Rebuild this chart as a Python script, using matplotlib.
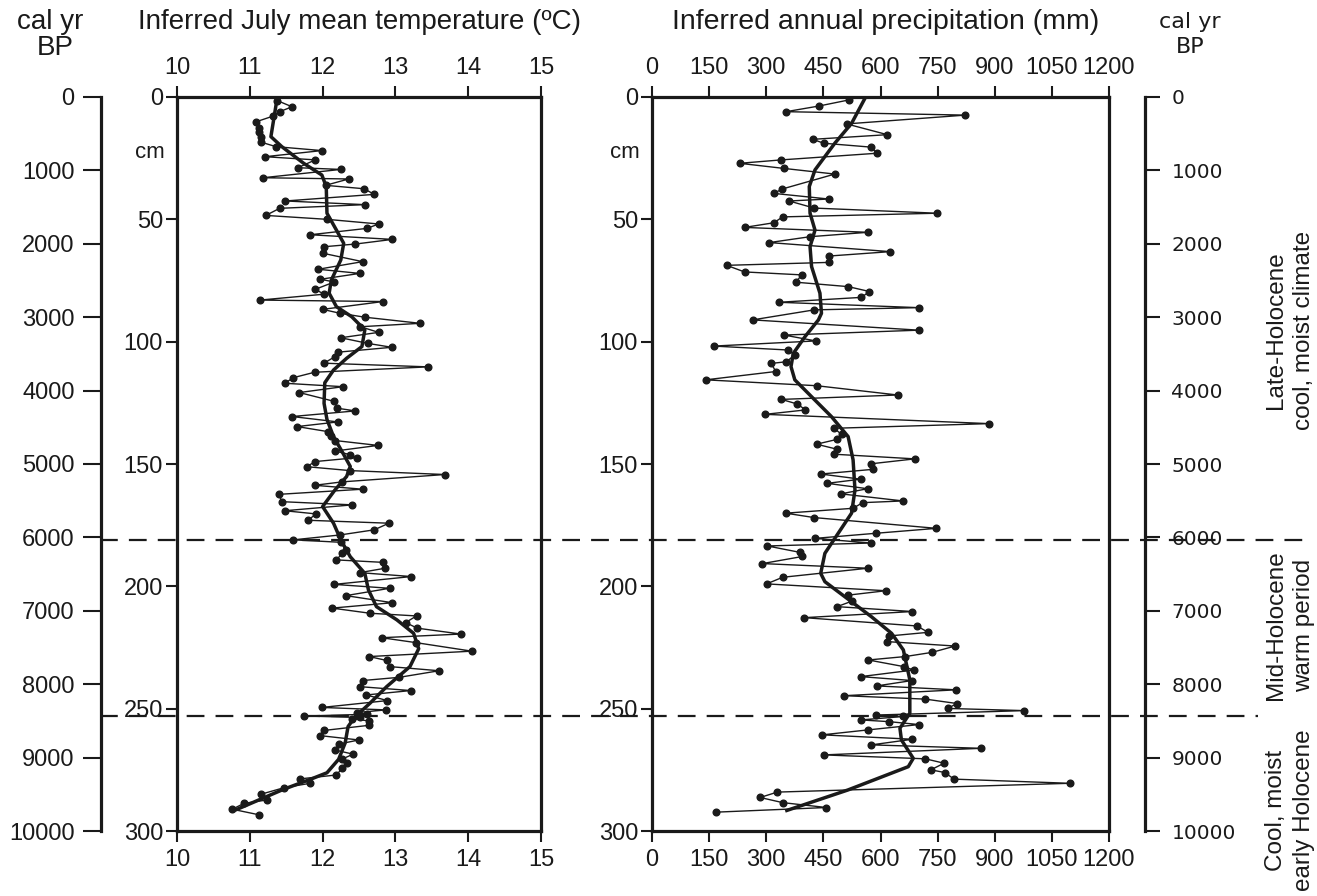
import numpy as np
import matplotlib
matplotlib.use('Agg')
import matplotlib.pyplot as plt
from matplotlib import transforms
from matplotlib.lines import Line2D

plt.rcParams['font.family'] = ['Liberation Sans', 'DejaVu Sans']

# ---- data ----
temp_depth = [1.5, 4.0, 6.0, 7.8, 10.1, 12.5, 14.4, 16.5, 18.5, 20.3, 21.9, 24.4, 25.7, 28.9, 29.6,
              33.0, 33.5, 36.1, 37.5, 39.8, 42.5, 44.0, 45.5, 48.4, 50.0, 51.9, 53.7, 56.3, 58.2,
              60.1, 61.2, 63.9, 67.3, 70.4, 72.1, 74.5, 75.6, 78.6, 80.6, 83.0, 83.6, 86.8, 88.4,
              90.0, 92.5, 93.9, 96.2, 98.4, 100.7, 102.3, 104.3, 106.1, 108.8, 110.3, 112.5, 114.7,
              117.0, 118.4, 120.8, 124.4, 127.2, 128.3, 130.6, 132.8, 134.7, 136.8, 138.4, 140.4,
              142.4, 144.7, 146.2, 147.4, 149.0, 151.1, 152.7, 154.3, 157.3, 158.7, 160.3, 162.4,
              165.4, 166.7, 169.1, 170.4, 173.0, 174.2, 176.9, 179.0, 181.0, 182.0, 185.1, 186.5,
              189.2, 190.2, 192.6, 194.4, 196.0, 199.2, 200.8, 203.8, 206.7, 208.9, 211.0, 212.1,
              214.8, 217.1, 219.5, 221.0, 223.0, 226.5, 228.7, 230.3, 232.8, 234.5, 237.2, 238.5,
              241.0, 242.6, 244.4, 246.7, 249.5, 250.5, 251.6, 252.3, 253.0, 253.6, 254.2, 255.0,
              256.8, 258.9, 261.0, 262.8, 264.4, 266.9, 268.6, 270.7, 272.3, 274.3, 277.1, 278.7,
              280.5, 282.3, 285.0, 287.3, 288.7, 291.1, 293.4]
temp = [11.38, 11.58, 11.41, 11.32, 11.09, 11.13, 11.13, 11.15, 11.16, 11.36, 11.99, 11.21, 11.90,
        11.66, 12.25, 11.18, 12.36, 12.04, 12.57, 12.71, 11.49, 12.58, 11.41, 11.22, 12.06, 12.77,
        12.61, 11.83, 12.96, 12.45, 12.02, 12.01, 12.55, 11.94, 12.51, 11.97, 12.16, 11.90, 12.02,
        11.14, 12.83, 12.00, 12.24, 12.58, 13.34, 12.52, 12.77, 12.25, 12.62, 12.95, 12.21, 12.17,
        12.02, 13.45, 11.89, 11.60, 11.48, 12.28, 11.68, 12.16, 12.20, 12.45, 11.58, 12.21, 11.65,
        12.08, 12.12, 12.17, 12.76, 12.17, 12.38, 12.47, 11.90, 11.78, 12.38, 13.68, 12.27, 11.89,
        12.55, 11.40, 11.44, 12.41, 11.48, 11.91, 11.80, 12.91, 12.71, 12.24, 11.60, 12.25, 12.32,
        12.27, 12.19, 12.83, 12.86, 12.51, 13.22, 12.16, 12.92, 12.32, 12.96, 12.13, 12.65, 13.29,
        13.14, 13.30, 13.90, 12.81, 13.28, 14.05, 12.64, 12.88, 12.92, 13.60, 13.05, 12.55, 12.51,
        13.21, 12.60, 12.89, 11.99, 12.87, 12.47, 12.61, 11.75, 12.51, 12.41, 12.64, 12.64, 12.02,
        11.96, 12.50, 12.23, 12.17, 12.42, 12.26, 12.34, 12.27, 12.19, 11.69, 11.83, 11.47, 11.15,
        11.24, 10.92, 10.76, 11.13]

temp_smooth_depth = [1.5, 16.2, 20.3, 27.1, 31.9, 36.6, 47.5, 54.4, 59.8, 66.6, 74.8, 80.2, 85.7,
                     89.8, 95.2, 102.0, 106.8, 111.6, 116.8, 125.2, 131.8, 138.8, 145.6, 151.0,
                     155.1, 160.6, 167.4, 174.2, 181.0, 187.9, 194.7, 201.5, 208.3, 213.7, 219.2,
                     225.5, 232.8, 241.0, 247.8, 253.2, 257.3, 264.0, 270.7, 276.2, 278.9, 283.0,
                     291.2]
temp_smooth = [11.37, 11.29, 11.44, 11.74, 11.99, 12.05, 12.06, 12.19, 12.29, 12.25, 12.12, 12.09,
               12.19, 12.40, 12.58, 12.54, 12.33, 12.15, 12.03, 12.02, 12.06, 12.15, 12.28, 12.38,
               12.33, 12.17, 12.00, 12.15, 12.25, 12.38, 12.58, 12.63, 12.74, 13.02, 13.25, 13.32,
               13.20, 12.88, 12.65, 12.45, 12.35, 12.31, 12.22, 12.06, 11.83, 11.46, 10.82]

prec_depth = [1.2, 3.7, 6.0, 7.4, 11.0, 15.4, 17.3, 18.9, 20.5, 23.0, 25.7, 27.1, 29.2, 31.5, 37.6,
              39.4, 41.7, 42.5, 45.4, 47.5, 49.0, 51.4, 53.3, 55.3, 57.1, 59.5, 63.2, 65.0, 67.6,
              68.8, 71.5, 72.7, 75.7, 77.5, 79.5, 81.9, 83.9, 86.1, 87.0, 91.1, 95.3, 97.3, 99.7,
              101.8, 103.4, 105.4, 108.2, 108.9, 112.2, 115.6, 118.0, 121.8, 123.6, 125.5, 127.9,
              129.7, 133.5, 135.4, 137.9, 139.9, 141.9, 144.0, 146.0, 147.9, 149.9, 152.2, 154.1,
              156.2, 157.9, 160.1, 162.2, 165.1, 165.8, 168.1, 170.1, 171.9, 176.3, 178.3, 180.4,
              182.3, 183.5, 186.1, 187.8, 190.7, 192.6, 196.3, 199.0, 201.8, 203.6, 206.0, 208.3,
              210.3, 212.8, 216.2, 218.8, 220.3, 222.6, 224.4, 227.0, 228.7, 230.1, 232.8, 234.2,
              236.9, 238.5, 240.7, 242.3, 244.7, 246.1, 247.9, 249.9, 250.8, 252.6, 253.2, 254.6,
              255.3, 256.5, 258.7, 260.7, 262.5, 264.8, 266.2, 268.9, 270.5, 272.3, 275.0, 276.1,
              278.8, 280.5, 284.1, 286.3, 288.4, 290.4, 292.3]
prec = [517, 438, 352, 823, 511, 618, 422, 451, 576, 590, 340, 230, 347, 480, 342, 320, 464, 360,
        426, 749, 343, 320, 243, 567, 415, 308, 626, 465, 465, 196, 243, 393, 378, 515, 571, 550,
        333, 701, 426, 264, 701, 347, 430, 162, 356, 375, 353, 313, 325, 141, 432, 645, 340, 382,
        403, 297, 885, 478, 498, 487, 432, 487, 478, 690, 576, 579, 443, 548, 460, 566, 496, 659,
        553, 528, 351, 426, 747, 589, 428, 574, 303, 388, 395, 290, 567, 343, 301, 614, 515, 526,
        486, 684, 400, 696, 725, 622, 618, 796, 735, 665, 568, 661, 687, 548, 683, 590, 799, 505,
        718, 801, 776, 978, 589, 660, 548, 622, 701, 566, 447, 684, 576, 865, 451, 718, 767, 732,
        769, 793, 1097, 329, 284, 343, 458, 168]

prec_smooth_depth = [0.0, 10.8, 18.9, 29.8, 36.6, 47.5, 54.4, 61.2, 69.3, 80.2, 88.4, 91.1, 97.9,
                     104.8, 110.2, 115.6, 122.5, 130.6, 138.8, 148.3, 160.6, 170.1, 178.3, 186.5,
                     194.7, 198.1, 204.2, 212.4, 219.2, 226.0, 238.2, 251.9, 258.0, 262.8, 270.3,
                     273.7, 283.2, 291.6]
prec_smooth = [561, 524, 480, 428, 413, 415, 428, 415, 419, 441, 445, 437, 402, 371, 365, 375, 419,
               471, 515, 528, 533, 524, 489, 454, 443, 454, 506, 576, 629, 660, 677, 677, 651, 655,
               686, 673, 515, 354]

depth_ticks = [0, 50, 100, 150, 200, 250, 300]
temp_ticks = [10, 11, 12, 13, 14, 15]
prec_ticks = [0, 150, 300, 450, 600, 750, 900, 1050, 1200]
age_ticks = list(range(0, 10001, 1000))
zone_depths = [181, 253]

W, H = 1317, 896
fig = plt.figure(figsize=(W / 100, H / 100), dpi=100)


def fx(px):
    return px / W


def fy(py):
    return 1 - py / H


top, bot = 97, 831
hgt = (bot - top) / H
ink = '#1a1a1a'

ax1 = fig.add_axes([fx(177), fy(bot), fx(541) - fx(177), hgt])
ax2 = fig.add_axes([fx(652), fy(bot), fx(1109) - fx(652), hgt])

ax1.plot(temp, temp_depth, '-o', color=ink, lw=1.0, ms=4.8)
ax1.plot(temp_smooth, temp_smooth_depth, '-', color=ink, lw=2.5)
ax1.set_xlim(10, 15)
ax1.set_xticks(temp_ticks)

ax2.plot(prec, prec_depth, '-o', color=ink, lw=1.0, ms=4.8)
ax2.plot(prec_smooth, prec_smooth_depth, '-', color=ink, lw=2.5)
ax2.set_xlim(0, 1200)
ax2.set_xticks(prec_ticks)

for ax in (ax1, ax2):
    ax.set_ylim(300, 0)
    ax.set_yticks(depth_ticks)
    ax.tick_params(axis='x', top=True, labeltop=True, bottom=True, labelbottom=True,
                   direction='out', length=8, width=1.5, labelsize=17, pad=5, colors=ink)
    ax.tick_params(axis='y', left=True, right=False, direction='out', length=8, width=1.5,
                   labelsize=17, pad=2, colors=ink)
    for s in ax.spines.values():
        s.set_linewidth(2.3)
        s.set_color(ink)

# outer calendar-age axes
axL = fig.add_axes([fx(101), fy(bot), 0.0001, hgt])
axR = fig.add_axes([fx(1145) - 0.0001, fy(bot), 0.0001, hgt])
for axo, side in ((axL, 'left'), (axR, 'right')):
    axo.set_ylim(10000, 0)
    axo.set_xticks([])
    axo.set_yticks(age_ticks)
    axo.patch.set_visible(False)
    for s in axo.spines:
        axo.spines[s].set_visible(s == side)
    axo.spines[side].set_linewidth(2.3)
    axo.spines[side].set_color(ink)
axL.tick_params(axis='y', direction='out', length=13, width=1.5, labelsize=17, pad=6, colors=ink)
axR.yaxis.tick_right()
axR.tick_params(axis='y', direction='out', length=11, width=1.5, labelsize=14.5, pad=8, colors=ink)
for lab in axR.get_yticklabels():
    lab.set_fontfamily('DejaVu Sans')

# zone boundaries
tr = transforms.blended_transform_factory(fig.transFigure, ax1.transData)
for d, x_end in zip(zone_depths, [0.995, 0.955]):
    fig.add_artist(Line2D([fx(100), x_end], [d, d], transform=tr, color=ink,
                          lw=1.6, ls=(0, (8, 5))))

# labels
fig.text(fx(359), fy(22), 'Inferred July mean temperature (\u00baC)', ha='center', va='center',
         fontsize=20, color=ink)
fig.text(fx(886), fy(22), 'Inferred annual precipitation (mm)', ha='center', va='center',
         fontsize=20.5, color=ink)
fig.text(fx(50), fy(22), 'cal yr', ha='center', va='center', fontsize=20, color=ink)
fig.text(fx(55), fy(48), 'BP', ha='center', va='center', fontsize=20, color=ink)
fig.text(fx(1190), fy(22), 'cal yr', ha='center', va='center', fontsize=16,
         family='DejaVu Sans', color=ink)
fig.text(fx(1190), fy(47), 'BP', ha='center', va='center', fontsize=16,
         family='DejaVu Sans', color=ink)
fig.text(fx(150), fy(153), 'cm', ha='center', va='center', fontsize=16, color=ink)
fig.text(fx(625), fy(153), 'cm', ha='center', va='center', fontsize=16, color=ink)

for y, s in ((330, 'Late-Holocene\ncool, moist climate'),
             (625, 'Mid-Holocene\nwarm period'),
             (810, 'Cool, moist\nearly Holocene')):
    fig.text(fx(1290), fy(y), s, rotation=90, ha='center', va='center', multialignment='center',
             fontsize=17.5, linespacing=1.3, color=ink)

fig.savefig('out.png', dpi=100, facecolor='white')
